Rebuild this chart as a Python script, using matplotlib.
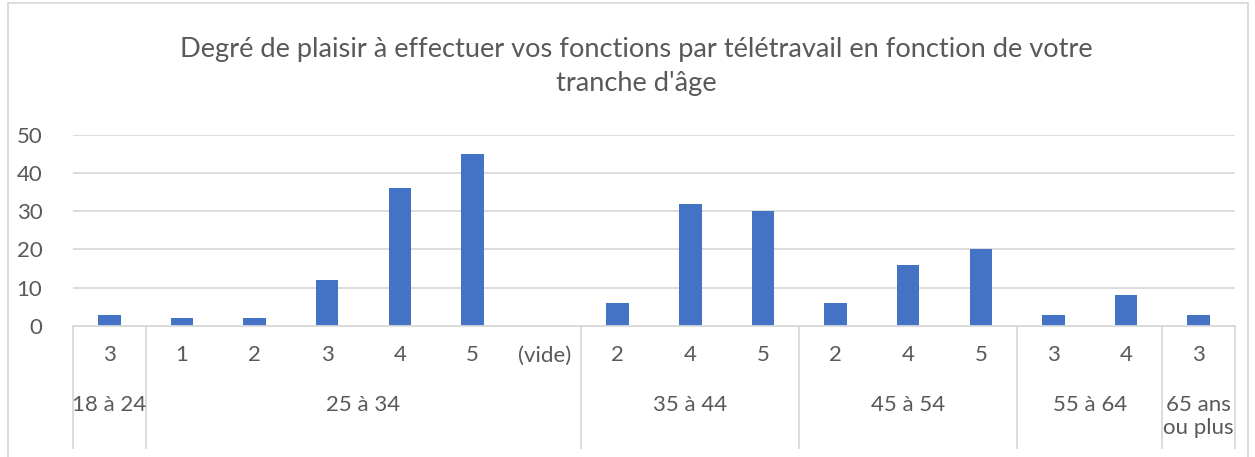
import matplotlib.pyplot as plt
import matplotlib.transforms as mtransforms
from matplotlib.patches import Rectangle

plt.rcParams['font.family'] = ['Lato', 'DejaVu Sans']

# data
groups = ['18 à 24', '25 à 34', '35 à 44', '45 à 54', '55 à 64', '65 ans\nou plus']
sub_labels = [['3'], ['1', '2', '3', '4', '5', '(vide)'], ['2', '4', '5'],
              ['2', '4', '5'], ['3', '4'], ['3']]
values = [3, 2, 2, 12, 36, 45, 0, 6, 32, 30, 6, 16, 20, 3, 8, 3]

labels = [s for g in sub_labels for s in g]
x = list(range(len(labels)))

text_col = '#595959'
grid_col = '#d9d9d9'

fig = plt.figure(figsize=(12.55, 4.57), dpi=100)
W, H = 1255, 457
ax = fig.add_axes([73 / W, 1 - 326 / H, (1235 - 73) / W, (326 - 134.7) / H])

ax.bar(x, values, width=0.31, color='#4472C4')
ax.set_xlim(-0.5, len(labels) - 0.5)
ax.set_ylim(0, 50)
ax.set_yticks([0, 10, 20, 30, 40, 50])
ax.yaxis.grid(True, color=grid_col, linewidth=1.3)
ax.set_axisbelow(True)
for s in ['top', 'right', 'left']:
    ax.spines[s].set_visible(False)
ax.spines['bottom'].set_color(grid_col)
ax.spines['bottom'].set_linewidth(1.3)
ax.tick_params(axis='y', length=0, pad=22, labelsize=16, labelcolor=text_col)
ax.set_xticks(x)
ax.set_xticklabels(labels)
ax.tick_params(axis='x', length=0, pad=14, labelsize=16, labelcolor=text_col)

# group labels and separators
trans = mtransforms.blended_transform_factory(ax.transData, ax.transAxes)
ybot = -(448 - 326) / (326 - 134.7)
start = 0
bounds = [-0.5]
for g, subs in zip(groups, sub_labels):
    end = start + len(subs)
    bounds.append(end - 0.5)
    cx = (start + end - 1) / 2
    ax.text(cx, -(395 - 326) / (326 - 134.7), g, transform=trans, ha='center', va='top',
            fontsize=16, color=text_col, linespacing=1.2)
    start = end
for b in bounds:
    ax.plot([b, b], [0, ybot], transform=trans, color=grid_col, lw=1.3, clip_on=False)

fig.text(636 / W, 1 - 67 / H,
         "Degré de plaisir à effectuer vos fonctions par télétravail en fonction de votre\ntranche d'âge",
         ha='center', va='center', fontsize=19.6, color=text_col, linespacing=1.45)

fig.patches.append(Rectangle((8 / W, -0.1), (1248 - 8) / W, 1.1 - 3 / H, transform=fig.transFigure,
                             fill=False, edgecolor=grid_col, lw=1.3))

fig.savefig('out.png', dpi=100)
